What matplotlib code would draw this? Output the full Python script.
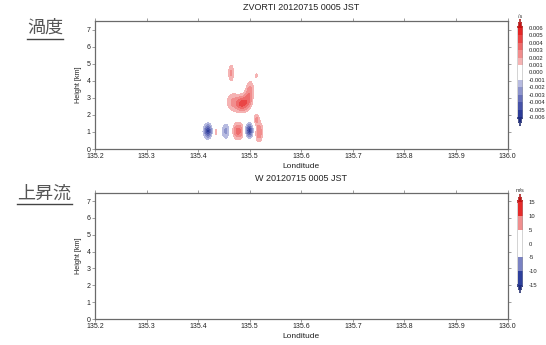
import numpy as np
import matplotlib
matplotlib.use("Agg")
import matplotlib.pyplot as plt
from matplotlib.colors import ListedColormap, BoundaryNorm
from matplotlib.lines import Line2D

plt.rcParams['font.family'] = ['Liberation Sans', 'DejaVu Sans']

# vorticity cells: centre, visible half-extent, peak value
cell_lon = [135.419, 135.434, 135.454, 135.478, 135.499, 135.518, 135.513,
            135.485, 135.467, 135.497, 135.501, 135.464, 135.513]
cell_z = [1.05, 1.0, 1.05, 1.05, 1.08, 1.0, 1.75,
          2.65, 2.75, 2.95, 3.55, 4.45, 4.3]
cell_dlon = [0.0115, 0.0028, 0.0095, 0.0125, 0.0115, 0.0075, 0.0045,
             0.0135, 0.0105, 0.008, 0.0055, 0.0048, 0.0022]
cell_dz = [0.55, 0.22, 0.48, 0.52, 0.55, 0.58, 0.25,
           0.52, 0.45, 0.5, 0.38, 0.45, 0.1]
cell_peak = [-0.0055, 0.0015, -0.0025, 0.0035, -0.0055, 0.003, 0.002,
             0.004, 0.002, 0.0025, 0.0018, 0.0022, 0.0013]

vort_levels = [-0.006, -0.005, -0.004, -0.003, -0.002, -0.001, 0.0,
               0.001, 0.002, 0.003, 0.004, 0.005, 0.006]
vort_colors = ['#2b3b98', '#4652a8', '#6770b9', '#8d94cc', '#b7bbe0', 'white',
               'white', '#f5b3b3', '#f18d8d', '#ee6a6a', '#ea4545', '#e42525']
w_levels = [-15, -10, -5, 0, 5, 10, 15]
w_colors = ['#2d3f9c', '#7a82c3', 'white', 'white', '#f08f8f', '#e62a2a']
xticks = [135.2, 135.3, 135.4, 135.5, 135.6, 135.7, 135.8, 135.9, 136.0]
yticks = [0, 1, 2, 3, 4, 5, 6, 7]

lon = np.linspace(135.2, 136.0, 1601)
hgt = np.linspace(0, 7.5, 301)
LON, HGT = np.meshgrid(lon, hgt)
vort = np.zeros_like(LON)
for x0, z0, dx, dz, p in zip(cell_lon, cell_z, cell_dlon, cell_dz, cell_peak):
    k = np.sqrt(2 * np.log(abs(p) / 0.001))
    sx, sz = dx / k, dz / k
    vort += p * np.exp(-((LON - x0) ** 2 / (2 * sx ** 2) + (HGT - z0) ** 2 / (2 * sz ** 2)))
w = np.zeros_like(LON)

W, H = 546, 345
fig = plt.figure(figsize=(W / 100, H / 100), dpi=100)


def fx(px):
    return px / W


def fy(py):
    return 1 - py / H


def panel(top, bot, field, levels, colors, over, under, title, cb_top, cb_bot, unit, fmt):
    ax = fig.add_axes([fx(95), fy(bot), fx(507.5 - 95), (bot - top) / H])
    cmap = ListedColormap(colors)
    cmap.set_over(over)
    cmap.set_under(under)
    norm = BoundaryNorm(levels, cmap.N)
    cf = ax.contourf(LON, HGT, field, levels=levels, cmap=cmap, norm=norm, extend='both')
    ax.set_xlim(135.2, 136.0)
    ax.set_ylim(0, 7.5)
    ax.set_xticks(xticks)
    ax.set_xticklabels(['%.1f' % v for v in xticks])
    ax.set_yticks(yticks)
    ax.tick_params(labelsize=5, length=2, width=0.5, color='#777777', pad=1.2,
                   top=True, right=True, direction='out', labelcolor='#222222')
    for s in ax.spines.values():
        s.set_color('#6a6a6a')
        s.set_linewidth(0.9)
    ax.set_xlabel('Londitude', fontsize=6, labelpad=1.5, color='#222222')
    ax.set_ylabel('Height [km]', fontsize=5.2, labelpad=3, color='#222222')
    fig.text(fx(301), fy(top - 14), title, fontsize=6.5, ha='center', va='center', color='#222222')

    cax = fig.add_axes([fx(517.5), fy(cb_bot), fx(5), (cb_bot - cb_top) / H])
    cb = fig.colorbar(cf, cax=cax, extendfrac=0.1, ticks=levels)
    cb.outline.set_linewidth(0.3)
    cb.outline.set_edgecolor('#999999')
    cb.ax.tick_params(length=0, labelsize=4.2, pad=4.5, labelcolor='#222222')
    cb.ax.set_yticklabels([fmt % v for v in levels])
    fig.text(fx(520), fy(cb_top - 3), unit, fontsize=4, ha='center', va='center', color='#333333')
    return ax


panel(21, 149, vort, vort_levels, vort_colors, '#c80f0f', '#1c2a80',
      'ZVORTI 20120715 0005 JST', 19, 126, '/s', '%.3f')
panel(192.7, 319, w, w_levels, w_colors, '#c80f0f', '#1c2a80',
      'W 20120715 0005 JST', 194, 293, 'm/s', '%d')

jp = ['Noto Sans CJK JP', 'DejaVu Sans']
fig.text(fx(45), fy(28), '渦度', fontsize=13, family=jp, ha='center', va='center', color='#555555')
fig.add_artist(Line2D([fx(27), fx(63)], [fy(38.5), fy(38.5)], color='#444444', lw=1))
fig.text(fx(44), fy(194), '上昇流', fontsize=13, family=jp, ha='center', va='center', color='#555555')
fig.add_artist(Line2D([fx(16.5), fx(71.5)], [fy(203.5), fy(203.5)], color='#444444', lw=1))

fig.savefig('out.png', dpi=100)
